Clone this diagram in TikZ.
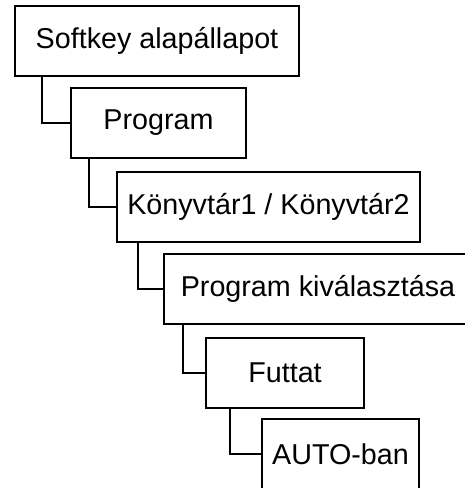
\documentclass[tikz,border=0pt]{standalone}
\usepackage{fontspec}
\setmainfont{Liberation Sans}
\begin{document}
\begin{tikzpicture}[x=1pt,y=-1pt,
  menubox/.style={draw=black, line width=2pt, rectangle, inner sep=0pt,
    minimum height=70pt, font=\fontsize{28.7}{34}\selectfont, text=black},
  link/.style={draw=black, line width=2pt}]
\useasboundingbox (0,0) rectangle (465,488);
\clip (0,0) rectangle (465,488);
\node[menubox, minimum width=284pt] (b1) at (157,41) {Softkey alapállapot};
\node[menubox, minimum width=175pt] (b2) at (158.5,123) {Program};
\node[menubox, minimum width=303pt] (b3) at (268.5,207) {Könyvtár1 / Könyvtár2};
\node[menubox, minimum width=308pt] (b4) at (318,289) {Program kiválasztása};
\node[menubox, minimum width=158pt] (b5) at (285,372.5) {Futtat};
\node[menubox, minimum width=157pt] (b6) at (340.5,454) {AUTO-ban};
\draw[link] ([xshift=28pt]b1.south west) |- (b2.west);
\draw[link] ([xshift=19pt]b2.south west) |- (b3.west);
\draw[link] ([xshift=22pt]b3.south west) |- (b4.west);
\draw[link] ([xshift=20pt]b4.south west) |- (b5.west);
\draw[link] ([xshift=25pt]b5.south west) |- (b6.west);
\end{tikzpicture}
\end{document}
